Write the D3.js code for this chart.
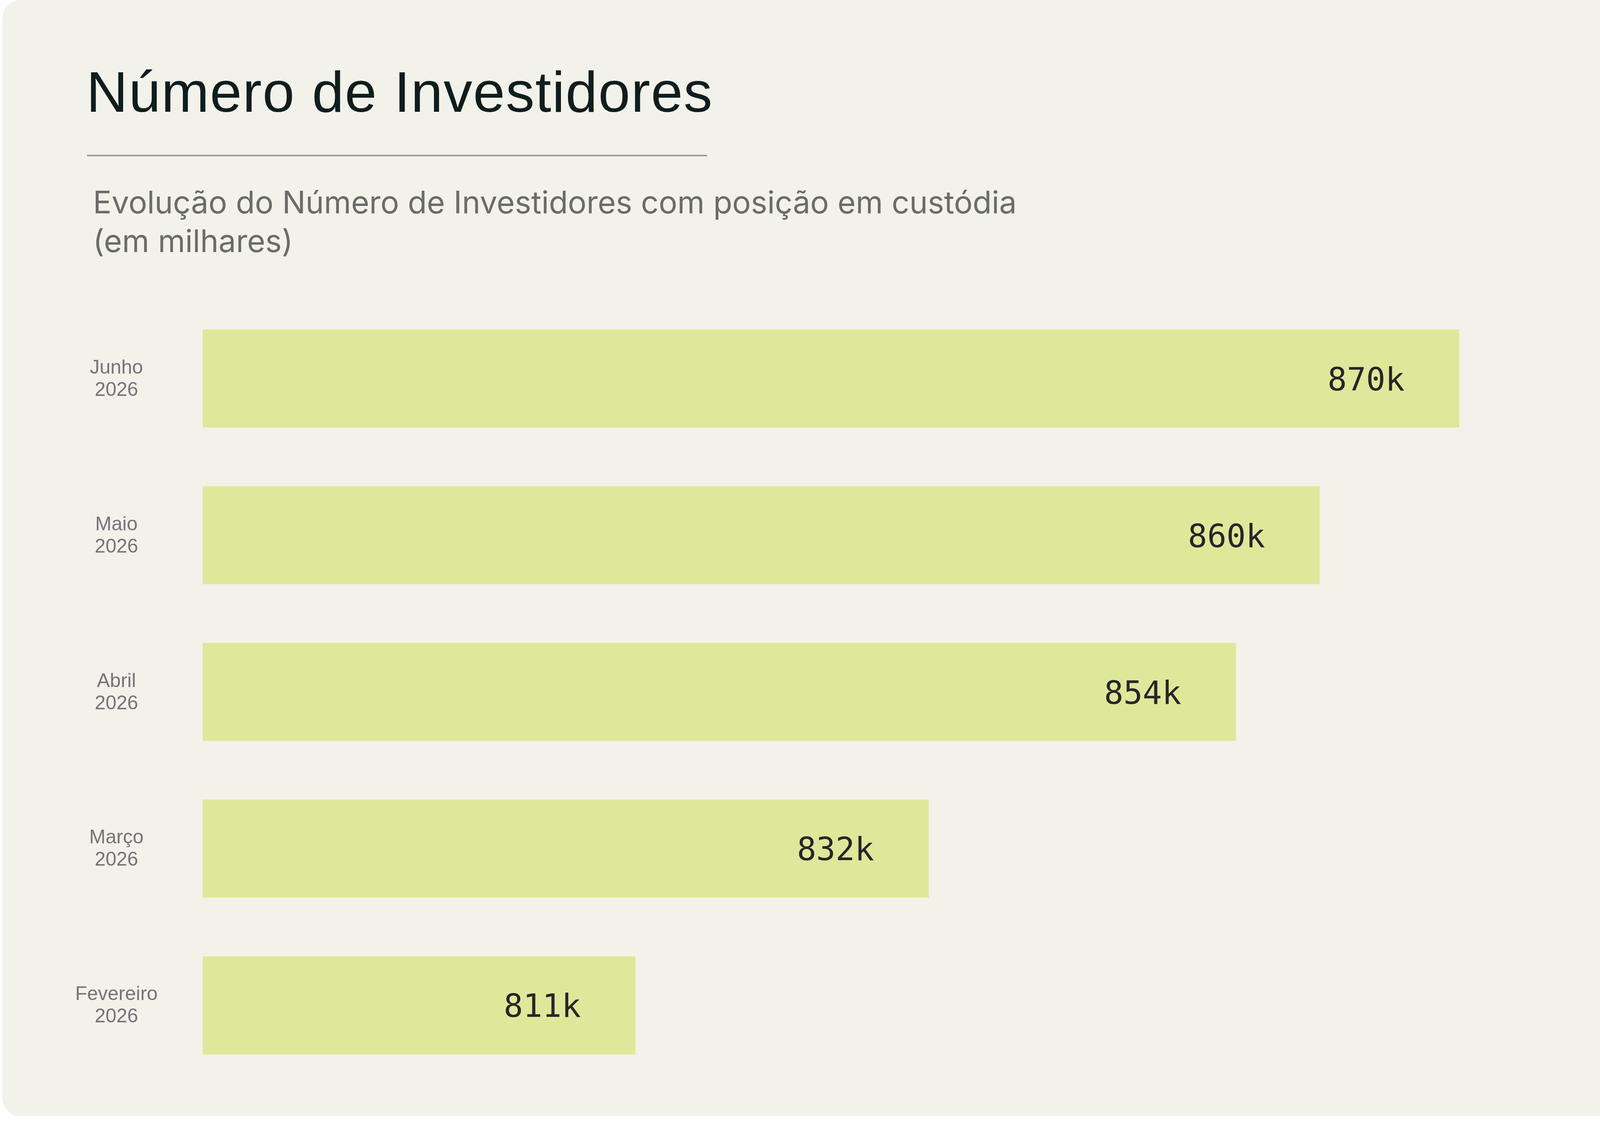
<!DOCTYPE html>
<html>
<head>
<meta charset="utf-8">
<script src="https://cdn.jsdelivr.net/npm/d3@7"></script>
<style>
  html, body { margin: 0; padding: 0; background: #ffffff; }
  #investors_chart { width: 4293px; height: 2912px; }
</style>
</head>
<body>
<div id="investors_chart"></div>
<script>
// Chart data (top to bottom, as drawn)
const months = ['Junho', 'Maio', 'Abril', 'Março', 'Fevereiro'];
const years = ['2026', '2026', '2026', '2026', '2026'];
const investors = [870, 860, 854, 832, 811]; // em milhares
const valueLabels = ['870k', '860k', '854k', '832k', '811k'];
const xDomain = [780, 870];

const titleText = 'Número de Investidores';
const subtitleLines = ['Evolução do Número de Investidores com posição em custódia', '(em milhares)'];

function drawInvestorsChart() {
    const totalWidth = 4293;
    const totalHeight = 2912;
    // plot area for the bars
    const margin = { top: 843, right: 557, bottom: 214, left: 519 };
    const width = totalWidth - margin.left - margin.right;

    const sansFont = "'Liberation Sans', Arial, sans-serif";
    const subFont = "Inter, 'Liberation Sans', sans-serif";
    const monoFont = "'DejaVu Sans Mono', monospace";

    d3.select("#investors_chart").selectAll('*').remove();
    const svg = d3.select("#investors_chart")
        .append("svg")
        .attr("width", totalWidth)
        .attr("height", totalHeight);

    // Card background
    svg.append("rect")
        .attr("x", 6)
        .attr("y", 0)
        .attr("width", totalWidth - 6)
        .attr("height", 2856)
        .attr("rx", 46)
        .attr("ry", 46)
        .attr("fill", "#f2f2ea");

    // Title
    svg.append("text")
        .attr("x", 221)
        .attr("y", 286)
        .attr("font-family", sansFont)
        .attr("font-size", 147)
        .attr("letter-spacing", 2)
        .attr("fill", "#0f1d1e")
        .text(titleText);

    // Rule under the title
    svg.append("line")
        .attr("x1", 223)
        .attr("x2", 1810)
        .attr("y1", 398)
        .attr("y2", 398)
        .attr("stroke", "#9a9a96")
        .attr("stroke-width", 4);

    // Subtitle (two lines)
    svg.selectAll('.subtitle')
        .data(subtitleLines)
        .enter()
        .append('text')
        .attr('class', 'subtitle')
        .attr('x', 238)
        .attr('y', (d, i) => 546 + i * 99)
        .attr('font-family', subFont)
        .attr('font-size', 79.5)
        .attr('fill', '#6b6b69')
        .text(d => d);

    // Scales
    const xScale = d3.scaleLinear()
        .domain(xDomain)
        .range([margin.left, margin.left + width]);

    const yScale = d3.scaleBand()
        .domain(months)
        .range([margin.top, totalHeight - margin.bottom])
        .paddingInner(0.374)
        .paddingOuter(0);

    const rows = months.map((m, i) => ({
        month: m,
        year: years[i],
        value: investors[i],
        label: valueLabels[i]
    }));

    // Bars
    svg.selectAll('.bar')
        .data(rows)
        .enter()
        .append('rect')
        .attr('class', 'bar')
        .attr('x', xScale(xDomain[0]))
        .attr('y', d => yScale(d.month))
        .attr('width', d => xScale(d.value) - xScale(xDomain[0]))
        .attr('height', yScale.bandwidth())
        .attr('fill', '#dee89a');

    // Category labels (month + year), centered to the left of the bars
    const catLabels = svg.selectAll('.cat-label')
        .data(rows)
        .enter()
        .append('text')
        .attr('class', 'cat-label')
        .attr('x', 298)
        .attr('text-anchor', 'middle')
        .attr('font-family', sansFont)
        .attr('font-size', 50)
        .attr('fill', '#77737a');

    catLabels.append('tspan')
        .attr('x', 298)
        .attr('y', d => yScale(d.month) + yScale.bandwidth() / 2 - 13)
        .text(d => d.month);

    catLabels.append('tspan')
        .attr('x', 298)
        .attr('y', d => yScale(d.month) + yScale.bandwidth() / 2 + 44)
        .text(d => d.year);

    // Value labels inside the bar ends
    svg.selectAll('.value-label')
        .data(rows)
        .enter()
        .append('text')
        .attr('class', 'value-label')
        .attr('x', d => xScale(d.value) - 140)
        .attr('y', d => yScale(d.month) + yScale.bandwidth() / 2 + 30)
        .attr('text-anchor', 'end')
        .attr('font-family', monoFont)
        .attr('font-size', 82)
        .attr('fill', '#262628')
        .text(d => d.label);
}

drawInvestorsChart();
</script>
</body>
</html>
